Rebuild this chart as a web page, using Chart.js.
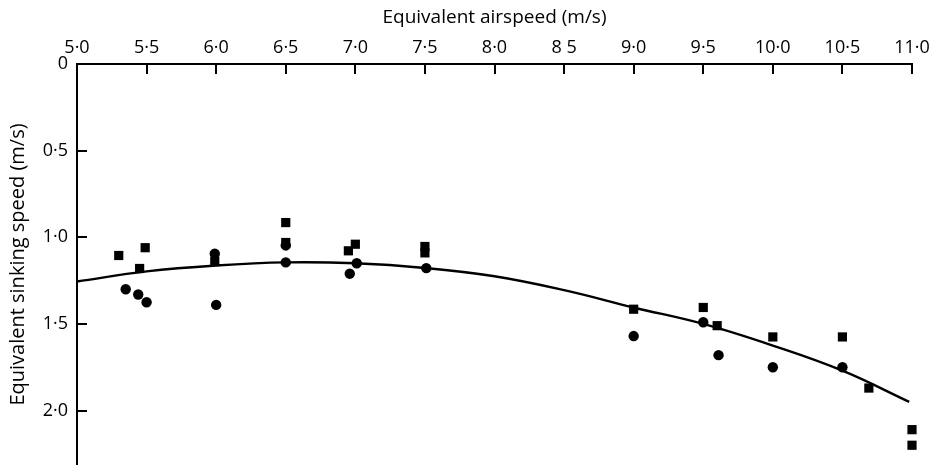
<!DOCTYPE html>
<html>
<head>
<meta charset="utf-8">
<script src="https://cdn.jsdelivr.net/npm/chart.js@4"></script>
<style>
  html, body { margin: 0; padding: 0; background: #fff; }
  #wrap { width: 931px; height: 465px; }
</style>
</head>
<body>
<div id="wrap"><canvas id="chart"></canvas></div>
<script>
// tick labels as printed in the figure
const xTicks = [5.0, 5.5, 6.0, 6.5, 7.0, 7.5, 8.0, 8.5, 9.0, 9.5, 10.0, 10.5, 11.0];
const xTickLabels = ["5·0", "5·5", "6·0", "6·5", "7·0", "7·5", "8·0", "8 5", "9·0", "9·5", "10·0", "10·5", "11·0"];
const yTicks = [0, 0.5, 1.0, 1.5, 2.0];
const yTickLabels = ["0", "0·5", "1·0", "1·5", "2·0"];

// square markers
const squareX = [5.3, 5.45, 5.49, 5.99, 6.5, 6.5, 6.95, 7.0, 7.5, 7.5, 9.0, 9.5, 9.6, 10.0, 10.5, 10.69, 11.0, 11.0];
const squareY = [1.105, 1.18, 1.06, 1.14, 0.915, 1.03, 1.078, 1.04, 1.053, 1.09, 1.415, 1.405, 1.51, 1.575, 1.575, 1.87, 2.11, 2.2];

// circle markers
const circleX = [5.35, 5.44, 5.5, 5.99, 6.0, 6.5, 6.5, 6.96, 7.01, 7.51, 9.0, 9.5, 9.61, 10.0, 10.5];
const circleY = [1.30, 1.33, 1.375, 1.095, 1.39, 1.047, 1.145, 1.21, 1.15, 1.178, 1.57, 1.49, 1.68, 1.75, 1.75];

// fitted curve
const curveX = [5.0, 5.5, 6.0, 6.5, 7.0, 7.5, 8.0, 8.5, 9.0, 9.5, 10.0, 10.5, 10.98];
const curveY = [1.255, 1.197, 1.163, 1.145, 1.15, 1.177, 1.225, 1.305, 1.405, 1.50, 1.625, 1.77, 1.95];

const toPoints = (xs, ys) => xs.map((x, i) => ({ x: x, y: ys[i] }));
const FONT = "'Open Sans', sans-serif";

// ticks in the figure point inward from the axes
const inwardTicks = {
    id: "inwardTicks",
    afterDraw(chart) {
        const { ctx, chartArea, scales } = chart;
        ctx.save();
        ctx.strokeStyle = "#000";
        ctx.lineWidth = 2;
        ctx.beginPath();
        xTicks.slice(1).forEach(v => {
            const px = Math.round(scales.x.getPixelForValue(v));
            ctx.moveTo(px, chartArea.top);
            ctx.lineTo(px, chartArea.top + 10);
        });
        yTicks.slice(1).forEach(v => {
            const py = Math.round(scales.y.getPixelForValue(v));
            ctx.moveTo(chartArea.left, py);
            ctx.lineTo(chartArea.left + 10, py);
        });
        ctx.stroke();
        ctx.restore();
    }
};

new Chart(document.getElementById("chart"), {
    type: "scatter",
    data: {
        datasets: [
            {
                label: "curve",
                type: "line",
                data: toPoints(curveX, curveY),
                borderColor: "#000",
                borderWidth: 2.4,
                pointRadius: 0,
                tension: 0.4,
                fill: false,
                clip: false
            },
            {
                label: "squares",
                data: toPoints(squareX, squareY),
                pointStyle: "rect",
                pointRadius: 6.5,
                backgroundColor: "#000",
                borderColor: "#000",
                borderWidth: 0,
                clip: false
            },
            {
                label: "circles",
                data: toPoints(circleX, circleY),
                pointStyle: "circle",
                pointRadius: 5.2,
                backgroundColor: "#000",
                borderColor: "#000",
                borderWidth: 0,
                clip: false
            }
        ]
    },
    options: {
        responsive: true,
        maintainAspectRatio: false,
        animation: false,
        events: [],
        layout: { autoPadding: false, padding: { left: 0, top: 0, right: 19, bottom: 0 } },
        plugins: { legend: { display: false }, tooltip: { enabled: false } },
        scales: {
            x: {
                type: "linear",
                position: "top",
                min: 5,
                max: 11,
                afterBuildTicks: s => { s.ticks = xTicks.map(v => ({ value: v })); },
                afterFit: s => { s.height = 64; s.paddingLeft = 0; s.paddingRight = 0; },
                ticks: {
                    color: "#000",
                    font: { family: FONT, size: 18 },
                    padding: 5,
                    maxRotation: 0,
                    autoSkip: false,
                    callback: v => xTickLabels[xTicks.indexOf(v)]
                },
                grid: { display: true, drawOnChartArea: false, drawTicks: false },
                border: { display: true, color: "#000", width: 2 },
                title: {
                    display: true,
                    text: "Equivalent airspeed (m/s)",
                    color: "#000",
                    font: { family: FONT, size: 19 },
                    padding: { top: 6, bottom: 0 }
                }
            },
            y: {
                type: "linear",
                reverse: true,
                min: 0,
                max: 2.314,
                afterBuildTicks: s => { s.ticks = yTicks.map(v => ({ value: v })); },
                afterFit: s => { s.width = 77; s.paddingTop = 0; s.paddingBottom = 0; },
                ticks: {
                    color: "#000",
                    font: { family: FONT, size: 18 },
                    padding: 9,
                    autoSkip: false,
                    callback: v => yTickLabels[yTicks.indexOf(v)]
                },
                grid: { display: true, drawOnChartArea: false, drawTicks: false },
                border: { display: true, color: "#000", width: 2 },
                title: {
                    display: true,
                    text: "Equivalent sinking speed (m/s)",
                    color: "#000",
                    font: { family: FONT, size: 20 },
                    padding: { top: 6, bottom: 0 }
                }
            }
        }
    },
    plugins: [inwardTicks]
});
</script>
</body>
</html>
